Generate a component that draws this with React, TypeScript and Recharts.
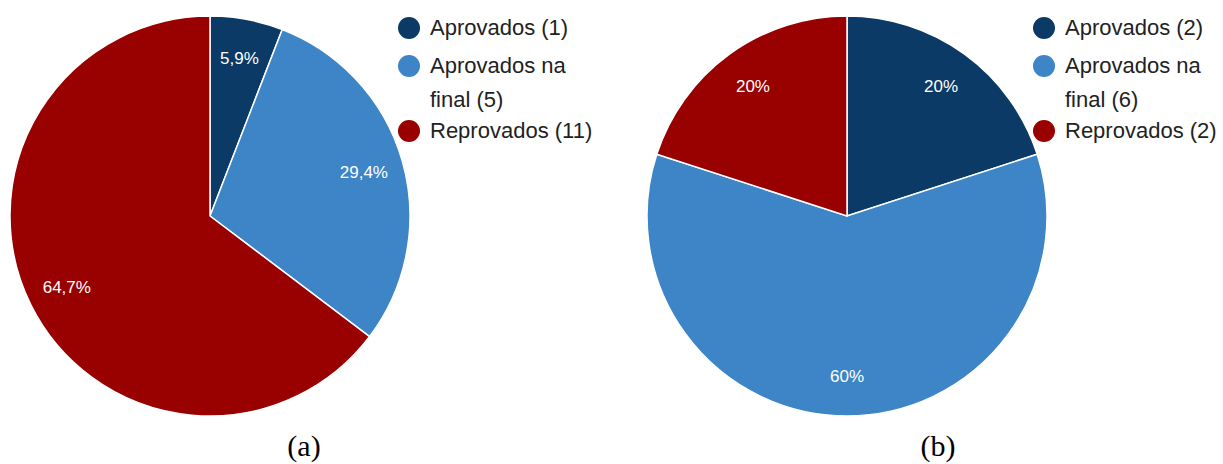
import React from "react";
import { Cell, Pie, PieChart } from "recharts";

const categories = ["Aprovados", "Aprovados na final", "Reprovados"];
const valuesA = [1, 5, 11];
const valuesB = [2, 6, 2];
const colors = ["#0b3a66", "#3d85c6", "#990000"];
const captions = ["(a)", "(b)"];

const FONT = "'Liberation Sans', Arial, sans-serif";
const RADIAN = Math.PI / 180;

function fmtPct(p: number) {
  const v = Math.round(p * 1000) / 10;
  return (Number.isInteger(v) ? String(v) : v.toFixed(1).replace(".", ",")) + "%";
}

function renderLabel(props: any) {
  const { cx, cy, midAngle, outerRadius, percent } = props;
  const r = outerRadius * 0.8;
  const x = cx + r * Math.cos(-midAngle * RADIAN);
  const y = cy + r * Math.sin(-midAngle * RADIAN);
  return (
    <text x={x} y={y} fill="#ffffff" textAnchor="middle" dominantBaseline="central" fontSize={17} fontFamily={FONT}>
      {fmtPct(percent)}
    </text>
  );
}

function Legend({ values, left }: { values: number[]; left: number }) {
  const tops = [11, 49, 114];
  return (
    <>
      {categories.map((c, i) => (
        <div
          key={c}
          style={{ position: "absolute", left, top: tops[i], display: "flex", alignItems: "flex-start", fontFamily: FONT, fontSize: 22, color: "#222", lineHeight: "34px" }}
        >
          <span style={{ width: 22, height: 22, borderRadius: "50%", background: colors[i], marginTop: 6, marginRight: 10, flex: "none" }} />
          <span style={{ width: 170 }}>{`${c} (${values[i]})`}</span>
        </div>
      ))}
    </>
  );
}

function OnePie({ values, left }: { values: number[]; left: number }) {
  const data = categories.map((name, i) => ({ name, value: values[i] }));
  return (
    <div style={{ position: "absolute", left, top: 0 }}>
      <PieChart width={420} height={432} margin={{ top: 0, right: 0, bottom: 0, left: 0 }}>
        <Pie
          data={data}
          dataKey="value"
          nameKey="name"
          cx={210}
          cy={216}
          outerRadius={200}
          startAngle={90}
          endAngle={-270}
          stroke="#ffffff"
          strokeWidth={1.5}
          label={renderLabel}
          labelLine={false}
          isAnimationActive={false}
        >
          {data.map((d, i) => (
            <Cell key={d.name} fill={colors[i]} />
          ))}
        </Pie>
      </PieChart>
    </div>
  );
}

export default function App() {
  return (
    <div style={{ position: "absolute", left: 0, top: 0, width: 1223, height: 464, background: "#fff", overflow: "hidden" }}>
      <OnePie values={valuesA} left={0} />
      <OnePie values={valuesB} left={637} />
      <Legend values={valuesA} left={398} />
      <Legend values={valuesB} left={1033} />
      {captions.map((c, i) => (
        <div
          key={c}
          style={{ position: "absolute", left: i === 0 ? 254 : 888, top: 428, width: 100, textAlign: "center", fontFamily: "'Liberation Serif', 'Times New Roman', serif", fontSize: 30, lineHeight: "36px", color: "#000" }}
        >
          {c}
        </div>
      ))}
    </div>
  );
}
